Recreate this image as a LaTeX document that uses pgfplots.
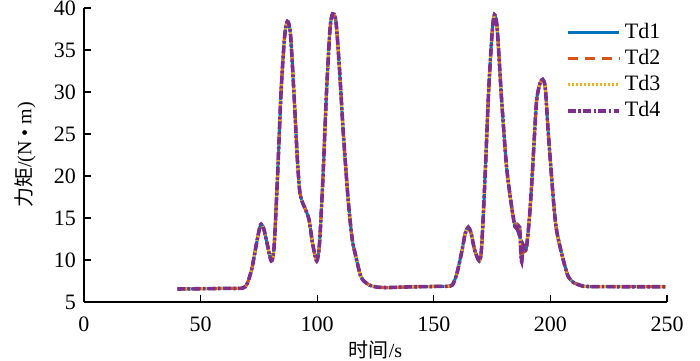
\documentclass[border=0pt]{standalone}
\usepackage{fontspec}
\setmainfont{Liberation Serif}
\newfontfamily\tnr{Liberation Serif}
\newfontfamily\cjk{Noto Sans CJK SC}
\usepackage{pgfplots}
\usepackage{pgfplotstable}
\pgfplotsset{compat=1.18}
\definecolor{c1}{rgb}{0,0.447,0.741}
\definecolor{c2}{rgb}{0.85,0.325,0.098}
\definecolor{c3}{rgb}{0.929,0.694,0.125}
\definecolor{c4}{rgb}{0.494,0.184,0.556}
\pgfplotstableread{
x y
40 6.55
50 6.58
60 6.62
68 6.65
70 7.2
72 9.0
74 12.0
75.7 14.2
77 13.8
78.5 12.0
80.3 9.9
81.5 11.5
83 20
84.5 30
86 36.5
87.2 38.4
88.5 37
90 30
91.5 22
92.5 18.2
93.5 17
95 16
96.5 14.8
98 12
99.8 9.9
101 12
102.5 20
104 30
105.5 37.5
106.6 39.3
108 38.5
109.5 33
111.2 25.1
113.3 17.1
115 12.5
116.5 10.5
118.5 8.2
120 7.5
122.5 7.0
125.5 6.78
130 6.72
140 6.8
150 6.85
157 6.9
158.5 7.3
160 8.5
162 11
163.5 13.2
164.8 13.9
166 13.2
167.5 11.2
169.5 9.9
170.5 11.5
172 20
173.5 30
175 37
176 39.2
177.2 37.5
179.1 29
181.2 21.1
183.4 16.3
184.8 14.0
185.5 14.2
186.2 13.4
186.8 13.9
187.3 11
187.7 9.8
188.3 11.8
188.8 11.0
189.8 11.6
191 15
192 19.1
193 24
194.1 29
195.5 31
196.7 31.5
197.8 30.5
199.1 25.1
201.3 17.1
202.5 13.8
204.1 11.6
206 9.5
207.7 8.0
210 7.3
212.7 7.0
215.5 6.85
230 6.82
249.5 6.82
}\torque
\begin{document}
\begin{tikzpicture}
\begin{axis}[
  scale only axis,
  width=291.5pt, height=147pt,
  xmin=0, xmax=250, ymin=5, ymax=40,
  xtick={0,50,...,250}, ytick={5,10,...,40},
  axis x line*=bottom, axis y line*=left,
  axis line style={-, line width=0.8pt},
  tick align=inside, xtick pos=bottom, ytick pos=left,
  major tick length=3.5pt,
  tick style={black, line width=0.6pt},
  /pgf/number format/assume math mode=true,
  ticklabel style={font=\tnr\fontsize{11}{13}\selectfont},
  xticklabel style={yshift=-4pt},
  yticklabel style={xshift=-0.5pt},
  xlabel={{\cjk 时间}/s},
  ylabel={{\cjk 力矩}/(N • m)},
  label style={font=\tnr\fontsize{12}{14}\selectfont},
  every axis y label/.style={at={(axis description cs:0,0.5)}, xshift=-29.5pt, rotate=90, anchor=center},
  every axis x label/.style={at={(axis description cs:0.5,0)}, anchor=center, yshift=-24pt},
  legend style={at={(0.816,0.978)}, anchor=north west, draw=none, fill=none,
    font=\tnr\fontsize{11}{13}\selectfont, row sep=0pt},
  legend cell align=left,
  legend image code/.code={\draw[#1] (0cm,0cm) -- (0.9cm,0cm);},
  every axis plot/.append style={line width=1.5pt, smooth, tension=0.45},
]
\addplot[c1, solid] table[x=x,y=y] {\torque};
\addplot[c2, dash pattern=on 5pt off 3.5pt] table[x=x,y=y] {\torque};
\addplot[c3, dash pattern=on 0.8pt off 1.2pt] table[x=x,y=y] {\torque};
\addplot[c4, line width=1.8pt, dash pattern=on 4pt off 1.2pt on 1.2pt off 1.2pt] table[x=x,y=y] {\torque};
\legend{Td1,Td2,Td3,Td4}
\coordinate (sw) at (rel axis cs:0,0);
\coordinate (ne) at (rel axis cs:1,1);
\end{axis}
\pgfresetboundingbox
\path[use as bounding box] ([shift={(-42pt,-29pt)}]sw) rectangle ([shift={(16.5pt,4pt)}]ne);
\end{tikzpicture}
\end{document}
